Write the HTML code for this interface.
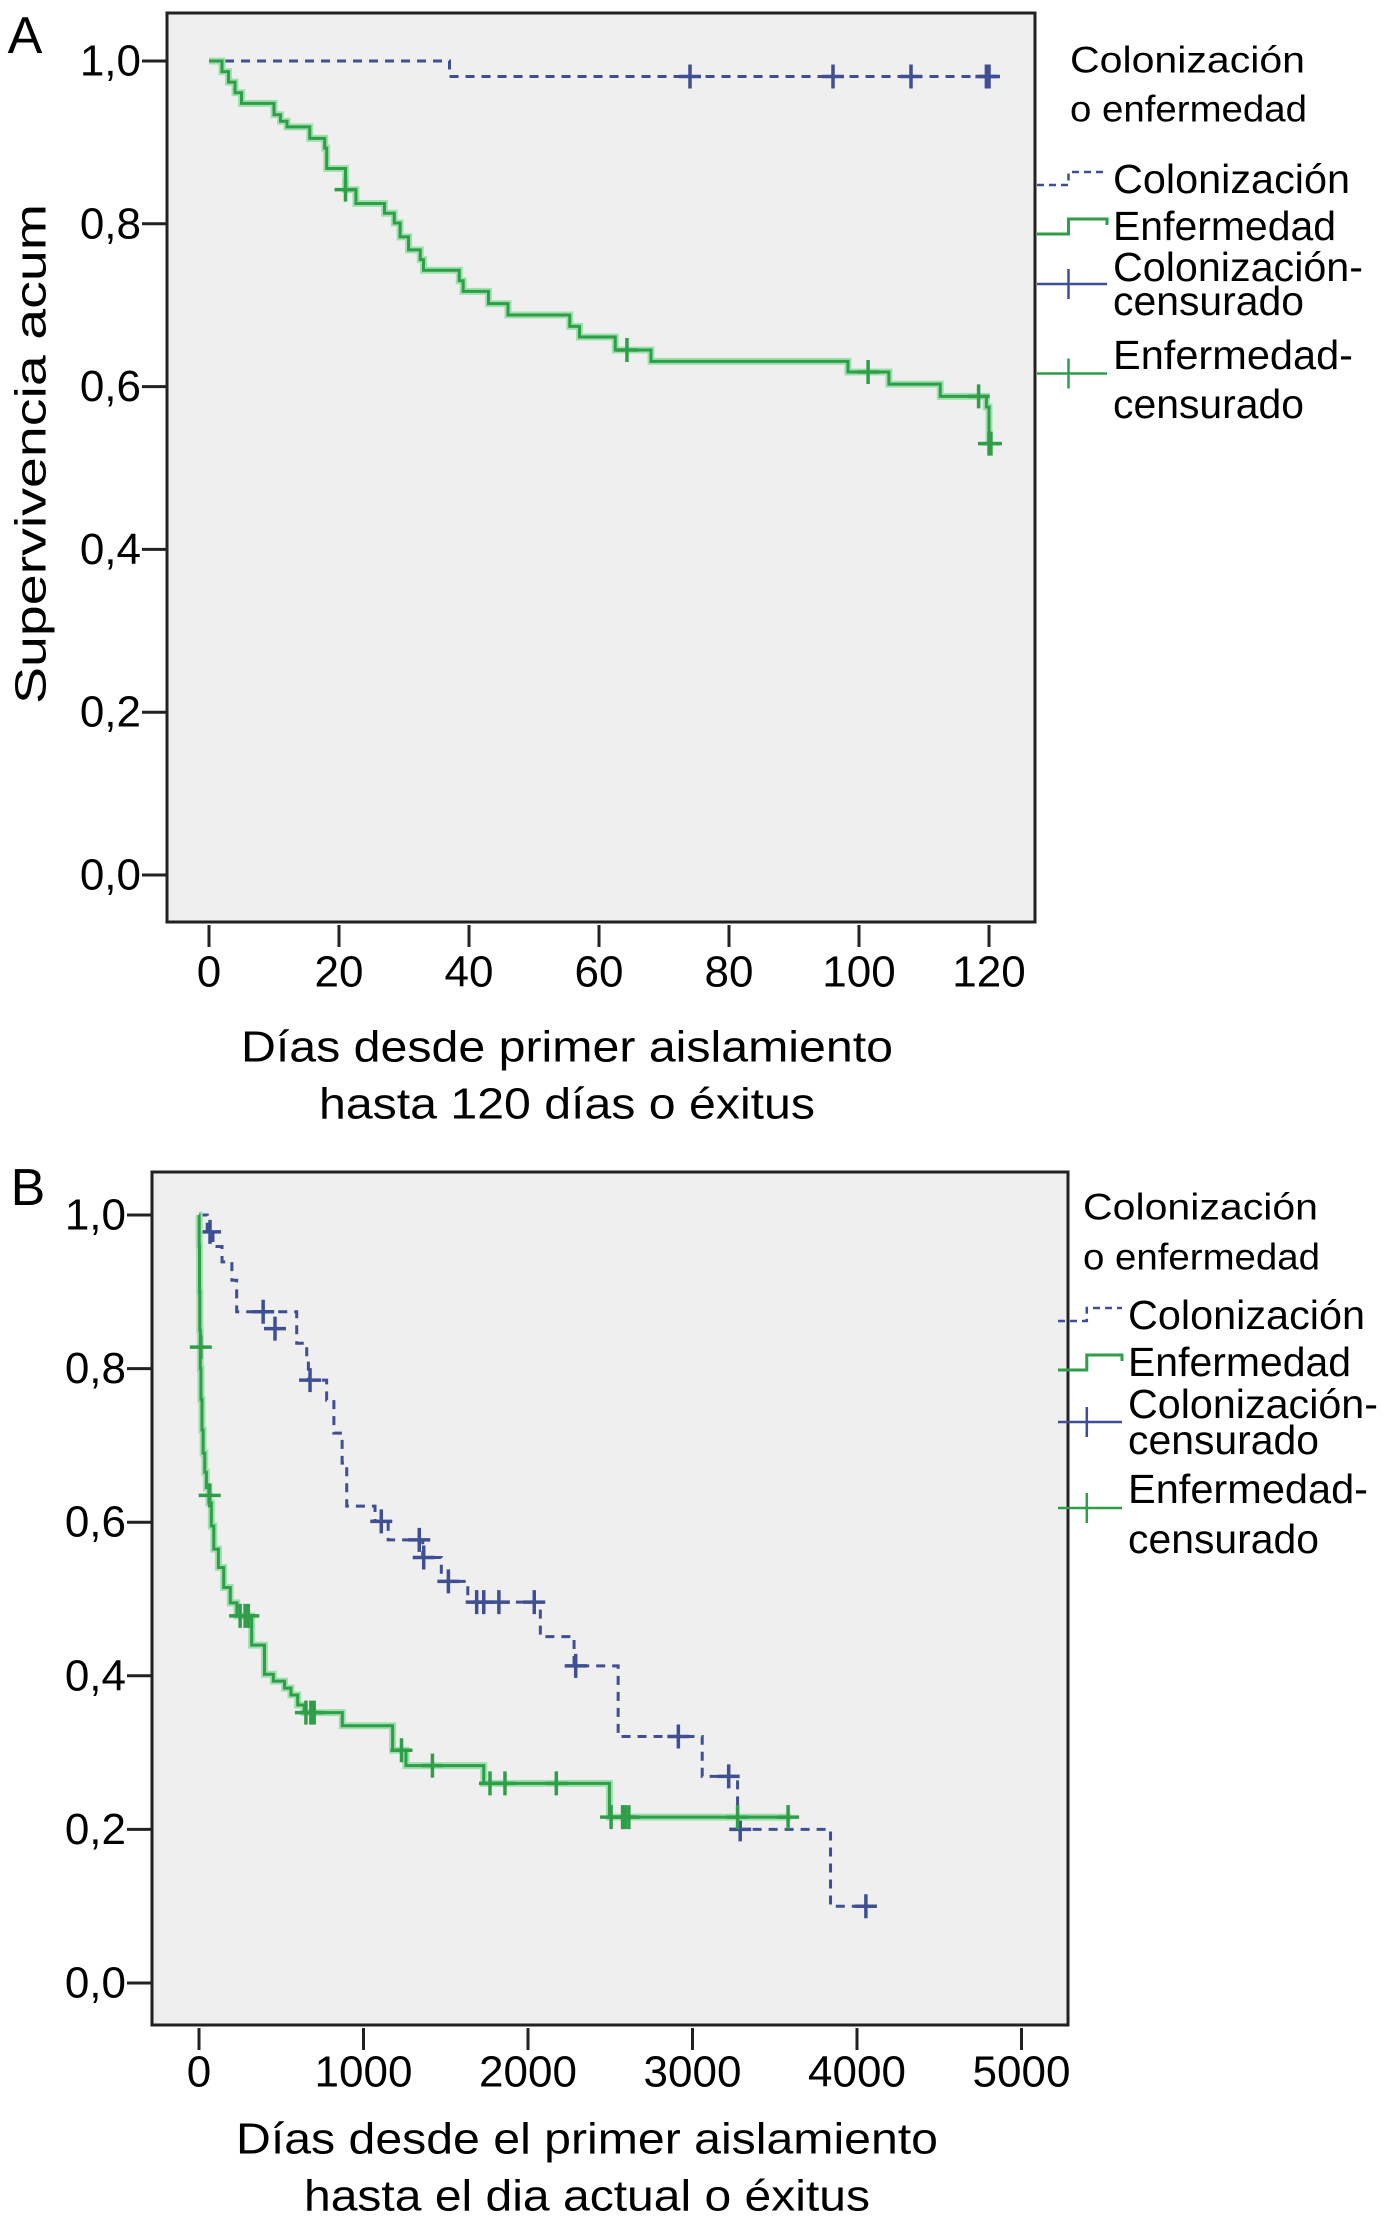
<!DOCTYPE html>
<html><head><meta charset="utf-8"><style>
html,body{margin:0;padding:0;background:#fff;}
svg{display:block;font-family:"Liberation Sans",sans-serif;}
</style></head><body>
<svg id="fig" width="1383" height="2231" viewBox="0 0 1383 2231" xmlns="http://www.w3.org/2000/svg">
<rect x="0" y="0" width="1383" height="2231" fill="#fff"/>
<text x="25" y="36" font-size="52" text-anchor="middle" dominant-baseline="central">A</text>
<text x="28" y="1188" font-size="52" text-anchor="middle" dominant-baseline="central">B</text>
<g id="panelA"></g>
<g id="panelB"></g>
</svg>
<script>
// ---- Panel A data ----
const aXTicks = [0, 20, 40, 60, 80, 100, 120];
const aYTicks = [0, 0.2, 0.4, 0.6, 0.8, 1.0];
const aYTickLabels = ["0,0", "0,2", "0,4", "0,6", "0,8", "1,0"];
const aColTimes = [37];
const aColSurv = [0.981];
const aColEnd = 120;
const aColCensT = [74, 96, 108, 120, 119.6];
const aColCensS = [0.981, 0.981, 0.981, 0.981, 0.981];
const aEnfTimes = [2, 3, 4, 5, 10, 11, 12, 15.5, 17.8, 18.1, 21, 22.6, 27, 28.5, 29.4, 30.7, 32.5, 33, 38.5, 39.1, 43, 46, 55.5, 57, 62.5, 68, 98.3, 104.6, 112.5, 119.6, 120];
const aEnfSurv = [0.987, 0.974, 0.961, 0.948, 0.934, 0.926, 0.919, 0.905, 0.893, 0.868, 0.842, 0.825, 0.813, 0.801, 0.784, 0.768, 0.756, 0.743, 0.730, 0.717, 0.702, 0.688, 0.674, 0.661, 0.645, 0.631, 0.618, 0.603, 0.588, 0.575, 0.53];
const aEnfEnd = 120;
const aEnfCensT = [21, 64.3, 101.4, 118.4, 120, 120.3];
const aEnfCensS = [0.842, 0.645, 0.618, 0.588, 0.53, 0.53];

// ---- Panel B data ----
const bXTicks = [0, 1000, 2000, 3000, 4000, 5000];
const bYTicks = [0, 0.2, 0.4, 0.6, 0.8, 1.0];
const bYTickLabels = ["0,0", "0,2", "0,4", "0,6", "0,8", "1,0"];
const bColTimes = [50, 85, 140, 200, 229, 594, 655, 665, 776, 820, 870, 898, 1070, 1150, 1360, 1473, 1634, 2075, 2280, 2548, 3059, 3274, 3839];
const bColSurv = [0.978, 0.959, 0.939, 0.915, 0.874, 0.833, 0.818, 0.785, 0.759, 0.716, 0.677, 0.621, 0.601, 0.577, 0.554, 0.523, 0.496, 0.451, 0.413, 0.321, 0.269, 0.200, 0.100];
const bColEnd = 4100;
const bColCensT = [67, 390, 462, 675, 1108, 1339, 1366, 1516, 1688, 1731, 1823, 2038, 2290, 2914, 3220, 3290, 4054];
const bColCensS = [0.978, 0.874, 0.852, 0.785, 0.601, 0.577, 0.554, 0.523, 0.496, 0.496, 0.496, 0.496, 0.413, 0.321, 0.269, 0.200, 0.100];
const bEnfTimes = [1, 3, 5, 8, 12, 18, 25, 35, 45, 60, 75, 90, 118, 150, 190, 230, 320, 398, 452, 520, 559, 600, 640, 871, 1177, 1258, 1731, 2495];
const bEnfSurv = [0.96, 0.90, 0.85, 0.80, 0.76, 0.72, 0.69, 0.665, 0.645, 0.625, 0.595, 0.565, 0.541, 0.515, 0.495, 0.478, 0.44, 0.402, 0.393, 0.384, 0.375, 0.362, 0.352, 0.335, 0.303, 0.283, 0.260, 0.216];
const bEnfEnd = 3600;
const bEnfCensT = [11, 65, 250, 280, 300, 650, 680, 700, 1231, 1419, 1769, 1860, 2172, 2505, 2575, 2591, 2613, 3274, 3581];
const bEnfCensS = [0.828, 0.635, 0.478, 0.478, 0.478, 0.352, 0.352, 0.352, 0.303, 0.283, 0.260, 0.260, 0.260, 0.216, 0.216, 0.216, 0.216, 0.216, 0.216];

const NS = "http://www.w3.org/2000/svg";
const COL = "#3f4f94", ENF = "#2e9e48";
function mk(parent, tag, attrs, text){
  const e = document.createElementNS(NS, tag);
  for (const k in attrs) e.setAttribute(k, attrs[k]);
  if (text !== undefined) e.textContent = text;
  parent.appendChild(e);
  return e;
}
function stepPath(xs, ys, times, surv, end){
  let d = "M" + xs(0) + "," + ys(1);
  for (let i = 0; i < times.length; i++){
    d += " H" + xs(times[i]) + " V" + ys(surv[i]);
  }
  d += " H" + xs(end);
  return d;
}
function drawPanel(g, cfg){
  const xs = v => cfg.x0 + (v - 0) * cfg.xk;
  const ys = v => cfg.y0 - v * cfg.yk;
  const bg = mk(g, "rect", {x: cfg.box[0], y: cfg.box[1], width: cfg.box[2]-cfg.box[0], height: cfg.box[3]-cfg.box[1], fill: "#efefef", stroke: "#222", "stroke-width": 3});
  
  
  cfg.yTicks.forEach((v, i) => {
    const t = mk(g, "line", {x1: cfg.box[0]-25, x2: cfg.box[0], y1: ys(v), y2: ys(v), stroke: "#222", "stroke-width": 3});
    
    
    const l = mk(g, "text", {x: cfg.box[0]-26, y: ys(v), "font-size": 44, "text-anchor": "end", "dominant-baseline": "central"}, cfg.yLabels[i]);
    
    
  });
  cfg.xTicks.forEach(v => {
    const t = mk(g, "line", {x1: xs(v), x2: xs(v), y1: cfg.box[3]+3, y2: cfg.box[3]+25, stroke: "#222", "stroke-width": 3});
    
    
    const l = mk(g, "text", {x: xs(v), y: cfg.xLabelY, "font-size": 44, "text-anchor": "middle", "dominant-baseline": "central"}, String(v));
    
    
  });
  cfg.series.forEach(s => {
    if (!s.dash){
      const h = mk(g, "path", {d: stepPath(xs, ys, s.times, s.surv, s.end), fill: "none", stroke: "#9fe0ae", "stroke-width": 7, "stroke-linejoin": "miter"});
      
      
    }
    const p = mk(g, "path", {d: stepPath(xs, ys, s.times, s.surv, s.end), fill: "none", stroke: s.color, "stroke-width": 3, "stroke-dasharray": s.dash ? "9,7" : "none"});
    
    
    s.censT.forEach((t, i) => {
      const c = mk(g, "path", {d: "M" + (xs(t)-11) + "," + ys(s.censS[i]) + " h22 M" + xs(t) + "," + (ys(s.censS[i])-12) + " v24", stroke: s.color, "stroke-width": 3.5, fill: "none"});
      
      
    });
  });
}

drawPanel(document.getElementById("panelA"), {
  box: [167, 13, 1035, 922], x0: 209, xk: 6.5, y0: 875, yk: 814, xLabelY: 972,
  xTicks: aXTicks, yTicks: aYTicks, yLabels: aYTickLabels,
  series: [
    {name: "colonizacion-a", color: COL, dash: true, times: aColTimes, surv: aColSurv, end: aColEnd, censT: aColCensT, censS: aColCensS},
    {name: "enfermedad-a", color: ENF, dash: false, times: aEnfTimes, surv: aEnfSurv, end: aEnfEnd, censT: aEnfCensT, censS: aEnfCensS}
  ]
});
drawPanel(document.getElementById("panelB"), {
  box: [152, 1172, 1068, 2025], x0: 199, xk: 0.1645, y0: 1983, yk: 768, xLabelY: 2072,
  xTicks: bXTicks, yTicks: bYTicks, yLabels: bYTickLabels,
  series: [
    {name: "colonizacion-b", color: COL, dash: true, times: bColTimes, surv: bColSurv, end: bColEnd, censT: bColCensT, censS: bColCensS},
    {name: "enfermedad-b", color: ENF, dash: false, times: bEnfTimes, surv: bEnfSurv, end: bEnfEnd, censT: bEnfCensT, censS: bEnfCensS}
  ]
});

const svg = document.getElementById("fig");
function txt(x, y, s, size, name, anchor, len){
  const a = {x: x, y: y, "font-size": size, "text-anchor": anchor || "start", "dominant-baseline": "central"};
  if (len) { a.textLength = len; a.lengthAdjust = "spacingAndGlyphs"; }
  const t = mk(svg, "text", a, s);
  
  
  return t;
}
// axis titles
const yt = txt(0, 0, "Supervivencia acum", 44, "y-axis-title-a", "middle", 500);
yt.setAttribute("transform", "translate(31,454) rotate(-90)");
txt(567, 1047, "Días desde primer aislamiento", 44, "x-axis-title-a-line1", "middle", 652);
txt(567, 1104, "hasta 120 días o éxitus", 44, "x-axis-title-a-line2", "middle", 496);
txt(587, 2139, "Días desde el primer aislamiento", 44, "x-axis-title-b-line1", "middle", 702);
txt(587, 2196, "hasta el dia actual o éxitus", 44, "x-axis-title-b-line2", "middle", 566);

// legends
function legend(hx, hy, sx, tx, ys){
  txt(hx, hy[0], "Colonización", 37, "legend-title", "start", 235);
  txt(hx, hy[1], "o enfermedad", 37, "legend-title", "start", 237);
  const w = tx - sx - 6;
  const p1 = mk(svg, "path", {d: "M" + sx + "," + (ys[0]+6) + " h" + (w*0.45) + " v-13 h" + (w*0.55), fill: "none", stroke: COL, "stroke-width": 2.5, "stroke-dasharray": "7,5"});
  
  
  txt(tx, ys[0], "Colonización", 41, "legend-colonizacion-label", "start", 237);
  const p2 = mk(svg, "path", {d: "M" + sx + "," + (ys[1]+8) + " h" + (w*0.45) + " v-15 h" + (w*0.55) + " v6", fill: "none", stroke: ENF, "stroke-width": 3});
  
  
  txt(tx, ys[1], "Enfermedad", 41, "legend-enfermedad-label", "start", 223);
  const cy3 = (ys[2]+ys[3])/2, cy4 = (ys[4]+ys[5])/2 - 6;
  const p3 = mk(svg, "path", {d: "M" + sx + "," + cy3 + " h" + w + " M" + (sx+w*0.45) + "," + (cy3-15) + " v30", fill: "none", stroke: COL, "stroke-width": 2.5});
  
  
  txt(tx, ys[2], "Colonización-", 41, "legend-colonizacion-censored-label", "start", 250);
  txt(tx, ys[3], "censurado", 41, "legend-colonizacion-censored-label", "start", 191);
  const p4 = mk(svg, "path", {d: "M" + sx + "," + cy4 + " h" + w + " M" + (sx+w*0.45) + "," + (cy4-15) + " v30", fill: "none", stroke: ENF, "stroke-width": 2.5});
  
  
  txt(tx, ys[4], "Enfermedad-", 41, "legend-enfermedad-censored-label", "start", 240);
  txt(tx, ys[5], "censurado", 41, "legend-enfermedad-censored-label", "start", 191);
}
legend(1070, [60, 109], 1037, 1113, [179, 226, 267, 301, 355, 404]);
legend(1083, [1207, 1257], 1058, 1128, [1315, 1362, 1404, 1440, 1489, 1539]);
</script>
</body></html>
